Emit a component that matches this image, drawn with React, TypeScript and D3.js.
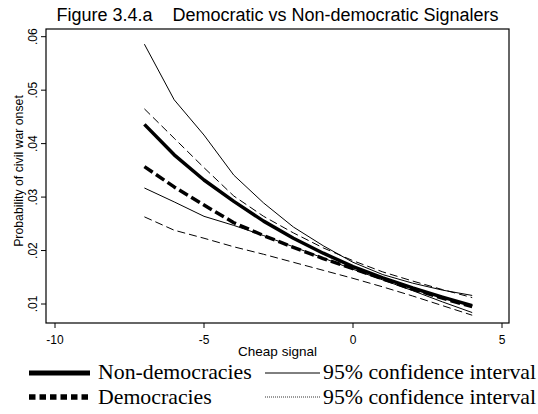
import React from "react";
import * as d3 from "d3";

// Predicted probabilities by cheap-signal value
const signal = [-7, -6, -5, -4, -3, -2, -1, 0, 1, 2, 3, 4];
const nonDem = [0.0436, 0.0379, 0.0332, 0.0292, 0.0255, 0.0223, 0.0195, 0.017, 0.0149, 0.013, 0.0113, 0.0097];
const nonDemHi = [0.0586, 0.0482, 0.0416, 0.0341, 0.0289, 0.0244, 0.0209, 0.0178, 0.0155, 0.0139, 0.0126, 0.0116];
const nonDemLo = [0.0317, 0.0291, 0.0264, 0.0247, 0.0228, 0.0207, 0.0186, 0.0165, 0.0145, 0.0125, 0.0104, 0.0084];
const dem = [0.0357, 0.0319, 0.0285, 0.0252, 0.0228, 0.0206, 0.0185, 0.0166, 0.0147, 0.0128, 0.0111, 0.0095];
const demHi = [0.0465, 0.041, 0.0355, 0.0302, 0.0264, 0.0233, 0.0205, 0.0181, 0.016, 0.0143, 0.0127, 0.0112];
const demLo = [0.0263, 0.0238, 0.0223, 0.0207, 0.0193, 0.0178, 0.0163, 0.0148, 0.0132, 0.0115, 0.0097, 0.0079];

const xTicks = [-10, -5, 0, 5];
const yTicks = [0.01, 0.02, 0.03, 0.04, 0.05, 0.06];
const yTickLabels = [".01", ".02", ".03", ".04", ".05", ".06"];

const W = 538;
const H = 414;
const frame = { left: 46, right: 509, top: 29, bottom: 323 };

const x = d3.scaleLinear().domain([-10, 5]).range([55, 502]);
const y = d3.scaleLinear().domain([0.01, 0.06]).range([304, 36.7]);

const lineGen = (vals: number[]) =>
  d3
    .line<number>()
    .x((_, i) => x(signal[i]))
    .y((v) => y(v))(vals) as string;

const sans = "'Liberation Sans', Arial, Helvetica, sans-serif";
const serif = "'Liberation Serif', 'Times New Roman', Times, serif";

export default function App() {
  const series = [
    { vals: nonDemHi, w: 1, dash: undefined },
    { vals: nonDemLo, w: 1, dash: undefined },
    { vals: demHi, w: 1, dash: "8 4" },
    { vals: demLo, w: 1, dash: "8 4" },
    { vals: nonDem, w: 3.5, dash: undefined },
    { vals: dem, w: 3.5, dash: "10 4" },
  ];
  return (
    <svg width={W} height={H} style={{ position: "absolute", left: 0, top: 0, background: "#fff" }}>
      <rect x={0} y={0} width={W} height={H} fill="#fff" />
      <text x={277.5} y={21} textAnchor="middle" fontFamily={sans} fontSize={18} fill="#000">
        {"Figure 3.4.a\u00a0\u00a0\u00a0\u00a0Democratic vs Non-democratic Signalers"}
      </text>
      <rect
        x={frame.left}
        y={frame.top}
        width={frame.right - frame.left}
        height={frame.bottom - frame.top}
        fill="none"
        stroke="#000"
        strokeWidth={1.2}
      />
      {series.map((s, i) => (
        <path
          key={i}
          d={lineGen(s.vals)}
          fill="none"
          stroke="#000"
          strokeWidth={s.w}
          strokeDasharray={s.dash}
          strokeLinejoin="round"
        />
      ))}
      {xTicks.map((t) => (
        <g key={t}>
          <line x1={x(t)} x2={x(t)} y1={frame.bottom} y2={frame.bottom + 5} stroke="#000" strokeWidth={1} />
          <text x={x(t)} y={frame.bottom + 20.5} textAnchor="middle" fontFamily={sans} fontSize={12} fill="#000">
            {t}
          </text>
        </g>
      ))}
      {yTicks.map((t, i) => (
        <g key={t}>
          <line x1={frame.left - 5} x2={frame.left} y1={y(t)} y2={y(t)} stroke="#000" strokeWidth={1} />
          <text
            transform={`translate(${frame.left - 9},${y(t)}) rotate(-90)`}
            textAnchor="middle"
            fontFamily={sans}
            fontSize={12}
            fill="#000"
          >
            {yTickLabels[i]}
          </text>
        </g>
      ))}
      <text x={277.5} y={356} textAnchor="middle" fontFamily={sans} fontSize={13.5} fill="#000">
        Cheap signal
      </text>
      <text
        transform={`translate(23,171) rotate(-90)`}
        textAnchor="middle"
        fontFamily={sans}
        fontSize={12.3}
        fill="#000"
      >
        Probability of civil war onset
      </text>
      {/* legend */}
      <g>
        <line x1={29} x2={90} y1={373} y2={373} stroke="#000" strokeWidth={5} />
        <text x={98} y={379} fontFamily={serif} fontSize={21.8} fill="#000">Non-democracies</text>
        <line x1={265} x2={320} y1={373} y2={373} stroke="#000" strokeWidth={1} />
        <text x={323} y={379} fontFamily={serif} fontSize={21.8} fill="#000">95% confidence interval</text>
        <line x1={29} x2={90} y1={397} y2={397} stroke="#000" strokeWidth={5.5} strokeDasharray="6.5 4" />
        <text x={98} y={404} fontFamily={serif} fontSize={21.8} fill="#000">Democracies</text>
        <line x1={265} x2={320} y1={397} y2={397} stroke="#000" strokeWidth={0.8} strokeDasharray="1 1" />
        <text x={323} y={404} fontFamily={serif} fontSize={21.8} fill="#000">95% confidence interval</text>
      </g>
    </svg>
  );
}
